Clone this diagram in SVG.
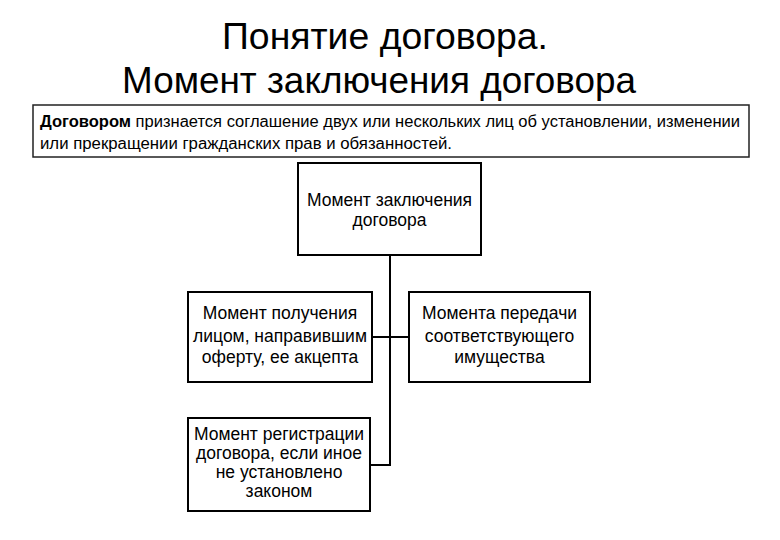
<svg xmlns="http://www.w3.org/2000/svg" width="780" height="540" viewBox="0 0 780 540">
<style>
.title{font-family:"Liberation Sans",Arial,sans-serif;font-size:36.5px;fill:#000;text-anchor:middle}
.def{font-family:"Liberation Sans",Arial,sans-serif;font-size:16px;fill:#000}
.node rect{fill:#fff;stroke:#000;stroke-width:2}
.node text{font-family:"Liberation Sans",Arial,sans-serif;font-size:17.5px;fill:#000;text-anchor:middle}
.conn line{stroke:#000;stroke-width:2;fill:none}
</style>
<rect width="780" height="540" fill="#fff"/>
<text class="title" x="385" y="49" textLength="326" lengthAdjust="spacingAndGlyphs">Понятие договора.</text>
<text class="title" x="379" y="93" textLength="514" lengthAdjust="spacingAndGlyphs">Момент заключения договора</text>
<g id="definition">
<rect x="33" y="105" width="716" height="52" fill="#fff" stroke="#222" stroke-width="1.5"/>
<text class="def" x="40" y="127" textLength="700" lengthAdjust="spacingAndGlyphs"><tspan font-weight="bold">Договором</tspan> признается соглашение двух или нескольких лиц об установлении, изменении</text>
<text class="def" x="40" y="149" textLength="412" lengthAdjust="spacingAndGlyphs">или прекращении гражданских прав и обязанностей.</text>
</g>
<g id="connectors" class="conn">
<line x1="390" y1="255" x2="390" y2="466"/>
<line x1="372" y1="337" x2="409" y2="337"/>
<line x1="370" y1="465" x2="391" y2="465"/>
</g>
<g id="n-root" class="node">
<rect x="298" y="163" width="183" height="92"/>
<text x="389.5" y="206">Момент заключения</text>
<text x="389.5" y="226">договора</text>
</g>
<g id="n-offer" class="node">
<rect x="188" y="292" width="184" height="90"/>
<text x="280" y="319">Момент получения</text>
<text x="280" y="342">лицом, направившим</text>
<text x="280" y="363">оферту, ее акцепта</text>
</g>
<g id="n-transfer" class="node">
<rect x="409" y="292" width="181" height="90"/>
<text x="499.5" y="319">Момента передачи</text>
<text x="499.5" y="342">соответствующего</text>
<text x="499.5" y="363">имущества</text>
</g>
<g id="n-registration" class="node">
<rect x="188" y="418" width="182" height="93"/>
<text x="279" y="440">Момент регистрации</text>
<text x="279" y="459">договора, если иное</text>
<text x="279" y="478">не установлено</text>
<text x="279" y="497">законом</text>
</g>
</svg>
